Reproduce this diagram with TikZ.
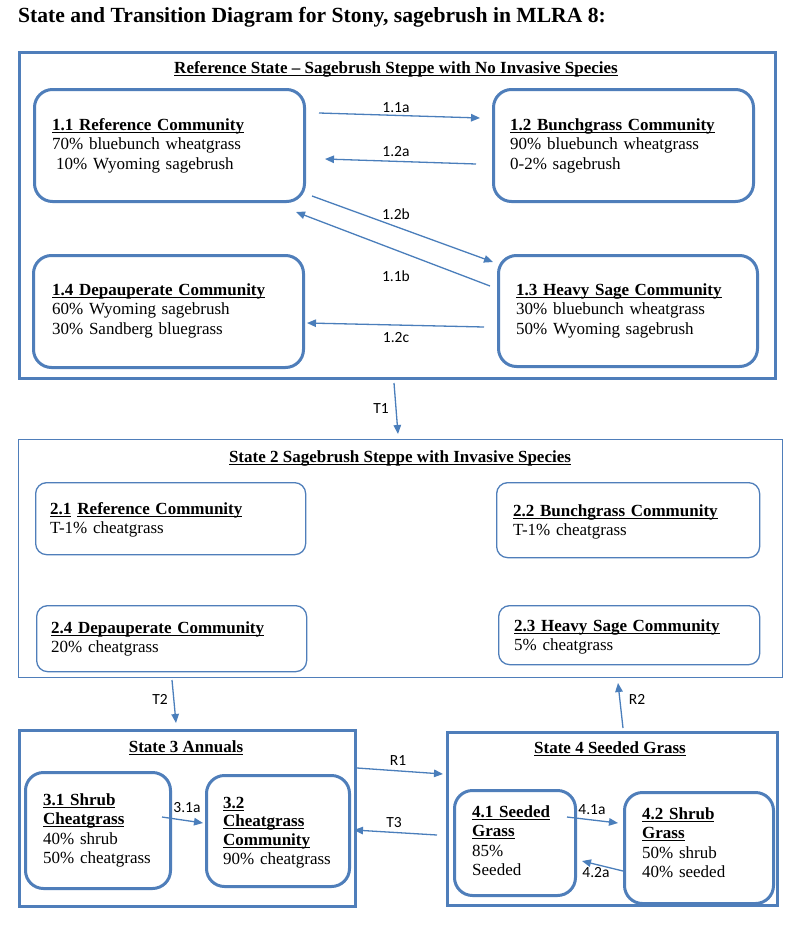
\documentclass[tikz,border=0pt]{standalone}
\usepackage{fontspec}
\setmainfont{Liberation Serif}
\newfontfamily\calib{Carlito}
\usetikzlibrary{arrows.meta}
\definecolor{sb}{RGB}{79,126,186}
\definecolor{ar}{RGB}{74,126,187}
\tikzset{
  statethick/.style={draw=sb, line width=3pt, inner sep=0pt},
  statethin/.style={draw=sb, line width=1.3pt, inner sep=0pt},
  commthick/.style={draw=sb, line width=3pt, rounded corners=18pt, inner sep=0pt},
  commthin/.style={draw=sb, line width=1.3pt, rounded corners=11pt, inner sep=0pt},
  commtxt/.style={font=\fontsize{17}{19.6}\selectfont, align=left, text width=260pt, inner sep=0pt, anchor=base west},
  statetitle/.style={font=\fontsize{17}{19.6}\selectfont\bfseries, inner sep=0pt, anchor=base},
  lbl/.style={font=\fontsize{15.5}{18}\selectfont\calib, inner sep=0pt},
  arr/.style={draw=ar, line width=1.3pt, -{Triangle[length=9pt,width=7.5pt]}},
}
\newcommand{\boxnode}[6]{%
  \node[#6, anchor=north west, minimum width={(#4-#2)*1pt}, minimum height={(#5-#3)*1pt}] (#1) at (#2,#3) {};}
\newsavebox{\ulbox}
\newcommand{\uln}[1]{\leavevmode\sbox{\ulbox}{#1}\rlap{\rule[-2.4pt]{\wd\ulbox}{0.9pt}}\usebox{\ulbox}}
\newcommand{\ul}[1]{\uln{\textbf{#1}}}
\begin{document}
\begin{tikzpicture}[x=1pt,y=-1pt]
\useasboundingbox (0,0) rectangle (800,926);
\fill[white] (0,0) rectangle (800,926);
% title
\node[font=\fontsize{21.6}{26}\selectfont\bfseries, inner sep=0pt, anchor=base west] (title) at (18,23) {State and Transition Diagram for Stony, sagebrush in MLRA 8:};
% ---------- State 1
\boxnode{s1}{18}{51}{774}{377}{statethick}
\node[statetitle] (s1t) at (396,73) {\uln{Reference State -- Sagebrush Steppe with No Invasive Species}};
\boxnode{b11}{33}{88}{303}{200}{commthick}
\boxnode{b12}{492}{88}{752}{200}{commthick}
\boxnode{b13}{497}{254}{756}{365}{commthick}
\boxnode{b14}{32}{254}{302}{366}{commthick}
\node[commtxt] (t11) at (52,130) {\ul{1.1 Reference Community}\\70\% bluebunch wheatgrass\\\hspace*{4pt}10\% Wyoming sagebrush};
\node[commtxt] (t12) at (510,130) {\ul{1.2 Bunchgrass Community}\\90\% bluebunch wheatgrass\\0-2\% sagebrush};
\node[commtxt] (t13) at (516,295) {\ul{1.3 Heavy Sage Community}\\30\% bluebunch wheatgrass\\50\% Wyoming sagebrush};
\node[commtxt] (t14) at (52,295) {\ul{1.4 Depauperate Community}\\60\% Wyoming sagebrush\\30\% Sandberg bluegrass};
% arrows state 1
\coordinate (p1) at (319,113); \coordinate (q1) at (480,118);
\coordinate (p2) at (476,164); \coordinate (q2) at (325,159);
\coordinate (p3) at (312,196); \coordinate (q3) at (493,262);
\coordinate (p4) at (490,286); \coordinate (q4) at (296,212);
\coordinate (p5) at (484,327); \coordinate (q5) at (307,323);
\draw[arr] (p1) -- (q1);
\draw[arr] (p2) -- (q2);
\draw[arr] (p3) -- (q3);
\draw[arr] (p4) -- (q4);
\draw[arr] (p5) -- (q5);
\node[lbl] (l11a) at (396,108) {1.1a};
\node[lbl] (l12a) at (396,152) {1.2a};
\node[lbl] (l12b) at (396,214) {1.2b};
\node[lbl] (l11b) at (396,276) {1.1b};
\node[lbl] (l12c) at (396,338) {1.2c};
% T1
\coordinate (pt1) at (394,383); \coordinate (qt1) at (398,434);
\draw[arr] (pt1) -- (qt1);
\node[lbl] (lt1) at (381,409) {T1};
% ---------- State 2
\boxnode{s2}{18}{439}{782}{677}{statethin}
\node[statetitle] (s2t) at (400,462) {\uln{State 2 Sagebrush Steppe with Invasive Species}};
\boxnode{b21}{35}{482}{305}{554}{commthin}
\boxnode{b22}{496}{482}{759}{557}{commthin}
\boxnode{b24}{36}{605}{306}{671}{commthin}
\boxnode{b23}{498}{605}{759}{664}{commthin}
\node[commtxt] (t21) at (50,514) {\ul{2.1}\hspace{6pt}\ul{Reference Community}\\T-1\% cheatgrass};
\node[commtxt] (t22) at (513,516) {\ul{2.2 Bunchgrass Community}\\T-1\% cheatgrass};
\node[commtxt] (t24) at (51,633) {\ul{2.4 Depauperate Community}\\20\% cheatgrass};
\node[commtxt] (t23) at (514,631) {\ul{2.3 Heavy Sage Community}\\5\% cheatgrass};
% T2, R2
\coordinate (pt2) at (172,680); \coordinate (qt2) at (176,723);
\draw[arr] (pt2) -- (qt2);
\node[lbl] (lt2) at (160,699) {T2};
\coordinate (pr2) at (623,728); \coordinate (qr2) at (618,683);
\draw[arr] (pr2) -- (qr2);
\node[lbl] (lr2) at (637,699) {R2};
% ---------- State 3
\boxnode{s3}{18}{729}{354}{905}{statethick}
\node[statetitle] (s3t) at (186,752) {\uln{State 3 Annuals}};
\boxnode{b31}{24}{771}{169}{887}{commthick}
\boxnode{b32}{205}{774}{348}{885}{commthick}
\node[commtxt] (t31) at (43,805) {\ul{3.1 Shrub}\\\ul{Cheatgrass}\\40\% shrub\\50\% cheatgrass};
\node[commtxt, font=\fontsize{17}{18.8}\selectfont] (t32) at (223,808) {\ul{3.2}\\\ul{Cheatgrass}\\\ul{Community}\\90\% cheatgrass};
\coordinate (p31) at (162,817); \coordinate (q31) at (203,823);
\draw[arr] (p31) -- (q31);
\node[lbl] (l31a) at (187,808) {3.1a};
% R1, T3
\coordinate (pr1) at (357,768); \coordinate (qr1) at (443,774);
\draw[arr] (pr1) -- (qr1);
\node[lbl] (lr1) at (398,761) {R1};
\coordinate (pt3) at (437,835); \coordinate (qt3) at (354,830);
\draw[arr] (pt3) -- (qt3);
\node[lbl] (lt3) at (394,823) {T3};
% ---------- State 4
\boxnode{s4}{446}{731}{776}{904}{statethick}
\node[statetitle] (s4t) at (610,753) {\uln{State 4 Seeded Grass}};
\boxnode{b41}{453}{789}{574}{894}{commthick}
\boxnode{b42}{623}{791}{772}{902}{commthick}
\node[commtxt] (t41) at (472,817) {\ul{4.1 Seeded}\\\ul{Grass}\\85\%\\Seeded};
\node[commtxt] (t42) at (642,819) {\ul{4.2 Shrub}\\\ul{Grass}\\50\% shrub\\40\% seeded};
\coordinate (p41) at (567,817); \coordinate (q41) at (618,823);
\draw[arr] (p41) -- (q41);
\node[lbl] (l41a) at (592,810) {4.1a};
\coordinate (p42) at (623,871); \coordinate (q42) at (582,861);
\draw[arr] (p42) -- (q42);
\node[lbl] (l42a) at (596,873) {4.2a};
\end{tikzpicture}
\end{document}
